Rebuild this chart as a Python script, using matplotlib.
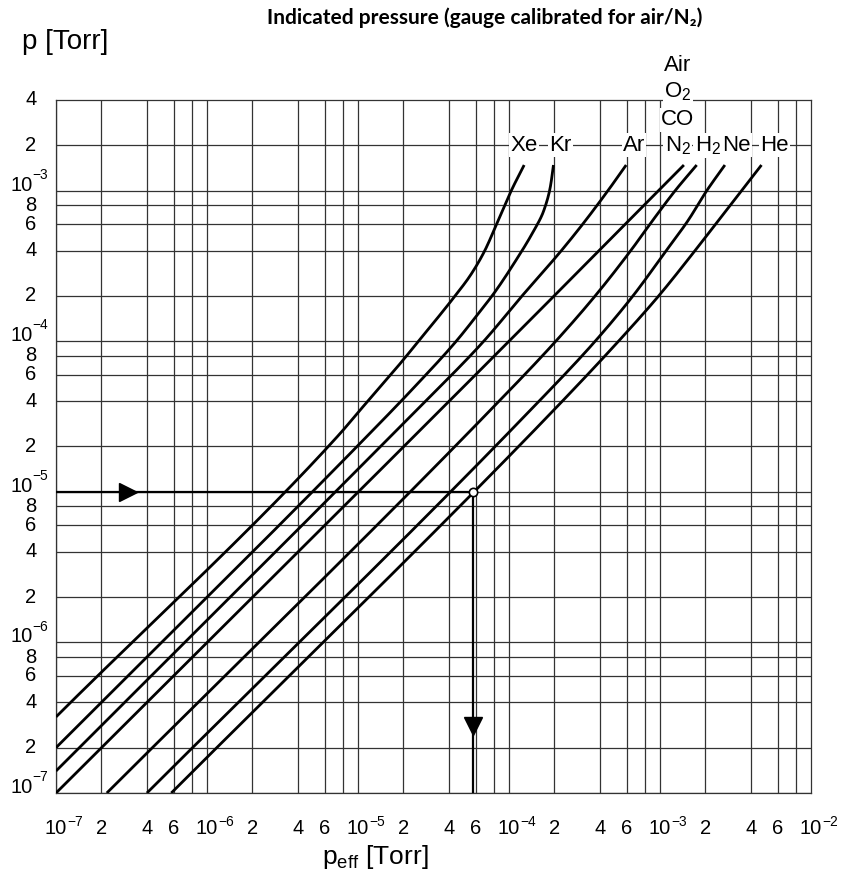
import numpy as np
import matplotlib
matplotlib.use("Agg")
import matplotlib.pyplot as plt

plt.rcParams['font.family'] = ['Liberation Sans', 'DejaVu Sans']
plt.rcParams['mathtext.fontset'] = 'custom'
plt.rcParams['mathtext.rm'] = 'Liberation Sans'
plt.rcParams['mathtext.it'] = 'Liberation Sans'
plt.rcParams['mathtext.default'] = 'regular'

# ---------------- data ----------------
xe_peff = [1.0e-7, 7.53e-6, 1.02e-5, 1.383e-5, 1.963e-5, 2.51e-5, 3.27e-5, 4.29e-5, 5.59e-5, 6.87e-5, 8.28e-5, 1.035e-4, 1.26e-4]
xe_p    = [3.2e-7, 2.41e-5, 3.44e-5, 4.91e-5, 7.38e-5, 1.0e-4, 1.38e-4, 1.94e-4, 2.77e-4, 3.95e-4, 6.0e-4, 1.0e-3, 1.48e-3]

kr_peff = [1.0e-7, 9.85e-6, 2.38e-5, 4.47e-5, 6.18e-5, 8.11e-5, 1.10e-4, 1.41e-4, 1.69e-4, 1.87e-4, 1.97e-4]
kr_p    = [2.0e-7, 2.0e-5, 5.0e-5, 1.0e-4, 1.5e-4, 2.14e-4, 3.39e-4, 5.1e-4, 7.26e-4, 1.035e-3, 1.48e-3]

ar_peff = [1.0e-7, 2.1e-5, 6.8e-5, 1.22e-4, 2.2e-4, 3.08e-4, 4.52e-4, 5.97e-4]
ar_p    = [1.4e-7, 3.0e-5, 1.0e-4, 2.0e-4, 3.95e-4, 6.0e-4, 1.0e-3, 1.48e-3]

n2_peff = [1.0e-7, 1.0e-4, 1.44e-3]
n2_p    = [1.0e-7, 1.0e-4, 1.48e-3]

h2_peff = [2.17e-7, 6.84e-5, 2.04e-4, 3.72e-4, 6.38e-4, 8.91e-4, 1.26e-3, 1.75e-3]
h2_p    = [1.0e-7, 3.16e-5, 1.0e-4, 2.0e-4, 3.98e-4, 6.31e-4, 1.0e-3, 1.48e-3]

ne_peff = [4.0e-7, 1.26e-4, 3.72e-4, 6.62e-4, 1.096e-3, 1.53e-3, 2.04e-3, 2.69e-3]
ne_p    = [1.0e-7, 3.16e-5, 1.0e-4, 2.0e-4, 3.98e-4, 6.31e-4, 1.0e-3, 1.48e-3]

he_peff = [5.8e-7, 1.80e-4, 5.31e-4, 9.8e-4, 1.70e-3, 2.43e-3, 3.47e-3, 4.70e-3]
he_p    = [1.0e-7, 3.16e-5, 1.0e-4, 2.0e-4, 3.98e-4, 6.31e-4, 1.0e-3, 1.48e-3]

# example reading
ex_p = 1.0e-5
ex_peff = 5.77e-5
ex_arrow_right_x = 3.0e-7
ex_arrow_down_y = 2.78e-7

x_decades = [-7, -6, -5, -4, -3, -2]
y_decades = [-7, -6, -5, -4, -3]
x_minor_labels = [2, 4, 6]
y_minor_labels = [2, 4, 6, 8]
grid_mults = [1, 2, 4, 6, 8]


def smooth_path(xs, ys, n=300):
    """Monotone cubic (Fritsch-Carlson) through the read points, in log-log space."""
    t = np.log10(np.asarray(ys, float))
    u = np.log10(np.asarray(xs, float))
    h = np.diff(t)
    dlt = np.diff(u) / h
    m = np.zeros_like(t)
    m[0], m[-1] = dlt[0], dlt[-1]
    for i in range(1, len(t) - 1):
        if dlt[i - 1] * dlt[i] <= 0:
            m[i] = 0
        else:
            w1 = 2 * h[i] + h[i - 1]
            w2 = h[i] + 2 * h[i - 1]
            m[i] = (w1 + w2) / (w1 / dlt[i - 1] + w2 / dlt[i])
    tt = np.linspace(t[0], t[-1], n)
    k = np.clip(np.searchsorted(t, tt) - 1, 0, len(t) - 2)
    s = (tt - t[k]) / h[k]
    h00 = 2 * s**3 - 3 * s**2 + 1
    h10 = s**3 - 2 * s**2 + s
    h01 = -2 * s**3 + 3 * s**2
    h11 = s**3 - s**2
    uu = h00 * u[k] + h10 * h[k] * m[k] + h01 * u[k + 1] + h11 * h[k] * m[k + 1]
    return 10 ** uu, 10 ** tt


# ---------------- figure ----------------
W, H = 845, 871
fig = plt.figure(figsize=(W / 100, H / 100), dpi=100)
L, R, T, B = 56, 811, 100, 793
ax = fig.add_axes([L / W, 1 - B / H, (R - L) / W, (B - T) / H])
ax.set_xscale('log')
ax.set_yscale('log')
ax.set_xlim(1e-7, 1e-2)
ax.set_ylim(1e-7, 4e-3)
ax.tick_params(which='both', length=0, labelbottom=False, labelleft=False)
ax.minorticks_off()

gcol = '#333333'
glw = 0.9
for s in ax.spines.values():
    s.set_color(gcol)
    s.set_linewidth(glw)
    s.set_zorder(1)

for d in x_decades[:-1]:
    for m in grid_mults:
        ax.axvline(m * 10.0 ** d, color=gcol, lw=glw, zorder=1)
for d in y_decades:
    for m in grid_mults:
        v = m * 10.0 ** d
        if v < 4e-3:
            ax.axhline(v, color=gcol, lw=glw, zorder=1)

clw = 2.0
for xs, ys in [(xe_peff, xe_p), (kr_peff, kr_p), (ar_peff, ar_p), (n2_peff, n2_p),
               (h2_peff, h2_p), (ne_peff, ne_p), (he_peff, he_p)]:
    px, py = smooth_path(xs, ys)
    ax.plot(px, py, color='black', lw=clw, solid_capstyle='butt', zorder=3)

# example arrows
ax.plot([1e-7, ex_peff], [ex_p, ex_p], color='black', lw=1.6, zorder=3)
ax.plot([ex_peff, ex_peff], [ex_p, 1e-7], color='black', lw=1.6, zorder=3)
ax.plot([ex_arrow_right_x], [ex_p], marker='>', markersize=13, color='black', zorder=4)
ax.plot([ex_peff], [ex_arrow_down_y], marker='v', markersize=13, color='black', zorder=4)
ax.plot([ex_peff], [ex_p], marker='o', markersize=6, mfc='white', mec='black', mew=1.2, zorder=5)

# tick labels
fs = 14.5
xt = ax.get_xaxis_transform()
yt = ax.get_yaxis_transform()
ylab_x = (31 - L) / (R - L)
xlab_y = (B - 828) / (B - T)
for d in x_decades:
    v = 10.0 ** d
    ax.text(v, xlab_y, '10', transform=xt, ha='center', va='center', fontsize=fs, clip_on=False)
    ax.annotate('\u2212%d' % (-d), xy=(v, xlab_y), xycoords=xt, xytext=(8.2, 4.5),
                textcoords='offset points', ha='left', va='center', fontsize=fs * 0.68,
                annotation_clip=False)
    if d < -2:
        for m in x_minor_labels:
            ax.text(m * v, xlab_y, str(m), transform=xt, ha='center', va='center',
                    fontsize=fs, clip_on=False)
for d in y_decades:
    v = 10.0 ** d
    ax.annotate('10', xy=(ylab_x, v), xycoords=yt, xytext=(1, 0), textcoords='offset points',
                ha='right', va='baseline', fontsize=fs, annotation_clip=False)
    ax.annotate('\u2212%d' % (-d), xy=(ylab_x, v), xycoords=yt, xytext=(1, 8.5),
                textcoords='offset points', ha='left', va='baseline', fontsize=fs * 0.68,
                annotation_clip=False)
    for m in y_minor_labels:
        if m * v <= 4e-3:
            ax.text(ylab_x, m * v, str(m), transform=yt, ha='center', va='center',
                    fontsize=fs, clip_on=False)

# gas labels
gfs = 16
box = dict(facecolor='white', edgecolor='none', pad=1.0)
row_y = 2e-3
for txt, xv in [('Xe', 1.25e-4), ('Kr', 2.19e-4), ('Ar', 6.73e-4), ('N$_2$', 1.31e-3),
                ('H$_2$', 2.07e-3), ('Ne', 3.2e-3), ('He', 5.74e-3)]:
    ax.text(xv, row_y, txt, ha='center', va='center', fontsize=gfs, bbox=box, zorder=6, clip_on=False)
for txt, yv in [('CO', 2.95e-3), ('O$_2$', 4.53e-3), ('Air', 6.83e-3)]:
    ax.text(1.31e-3, yv, txt, ha='center', va='center', fontsize=gfs, bbox=box, zorder=6, clip_on=False)

# axis titles
fig.text(22 / W, 1 - 42 / H, 'p [Torr]', ha='left', va='center', fontsize=20)
fig.text(375 / W, 1 - 857 / H, 'p$_{eff}$ [Torr]', ha='center', va='center', fontsize=19)
fig.text(485 / W, 1 - 18 / H, 'Indicated pressure (gauge calibrated for air/N\u2082)',
         ha='center', va='center', fontsize=15, fontweight='bold',
         family=['Lato', 'DejaVu Sans'])

fig.savefig('out.png', dpi=100)
